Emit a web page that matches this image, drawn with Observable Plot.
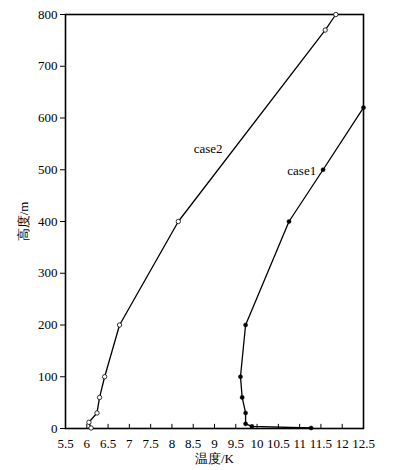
<!DOCTYPE html>
<html>
<head>
<meta charset="utf-8">
<script src="https://cdn.jsdelivr.net/npm/d3@7"></script>
<script src="https://cdn.jsdelivr.net/npm/@observablehq/plot@0.6"></script>
<style>
  html, body { margin: 0; padding: 0; background: #fff; }
  #chart svg, #chart svg text { font-family: "Times New Roman", "Liberation Serif", Times, "DejaVu Serif", serif !important; }
</style>
</head>
<body>
<div id="chart"></div>
<script>
// case1 (filled dots): temperature (K) and height (m)
const case1T = [11.27, 9.88, 9.73, 9.73, 9.65, 9.61, 9.73, 10.75, 11.55, 12.5];
const case1H = [1, 4, 9, 30, 60, 100, 200, 400, 500, 620];
// case2 (open circles)
const case2T = [6.1, 6.05, 6.24, 6.3, 6.42, 6.77, 8.15, 11.6, 11.85];
const case2H = [1, 12, 30, 60, 100, 200, 400, 770, 800];

const xTicks = [5.5, 6, 6.5, 7, 7.5, 8, 8.5, 9, 9.5, 10, 10.5, 11, 11.5, 12, 12.5];
const yTicks = [0, 100, 200, 300, 400, 500, 600, 700, 800];

const labelNames = ["case2", "case1"];
const labelT = [8.85, 11.05];
const labelH = [540, 497];

const case1 = case1T.map((t, i) => ({t, h: case1H[i]}));
const case2 = case2T.map((t, i) => ({t, h: case2H[i]}));
const labels = labelNames.map((name, i) => ({name, t: labelT[i], h: labelH[i]}));

const font = "Times New Roman, Liberation Serif, Times, DejaVu Serif, serif";

const chart = Plot.plot({
  width: 393,
  height: 470,
  marginLeft: 65,
  marginRight: 30,
  marginTop: 14,
  marginBottom: 42,
  style: {fontFamily: font, fontSize: "13px", color: "#000", background: "#fff"},
  x: {domain: [5.5, 12.5]},
  y: {domain: [0, 800]},
  marks: [
    Plot.frame({stroke: "#000", strokeWidth: 1.6}),
    Plot.axisX(xTicks, {tickSize: 0, tickPadding: 6, dy: 4, fontSize: 13, label: null, tickFormat: d => String(d)}),
    Plot.axisX({ticks: [], tickSize: 0, label: "温度/K", labelAnchor: "center", labelOffset: 34, labelArrow: "none", fontSize: 13}),
    Plot.ruleX(xTicks, {x: d => d, y1: 0, y2: 8, stroke: "#000", strokeWidth: 1}),
    Plot.axisY(yTicks, {tickSize: 5, tickPadding: 3, fontSize: 13, tickFormat: d => String(d),
      label: "高度/m", labelAnchor: "center", labelOffset: 47, labelArrow: "none"}),
    Plot.line(case2, {x: "t", y: "h", stroke: "#000", strokeWidth: 1.3}),
    Plot.line(case1, {x: "t", y: "h", stroke: "#000", strokeWidth: 1.3}),
    Plot.dot(case2, {x: "t", y: "h", r: 2.2, fill: "#fff", stroke: "#000", strokeWidth: 0.8}),
    Plot.dot(case1, {x: "t", y: "h", r: 2.1, fill: "#000", stroke: "#000", strokeWidth: 0.4}),
    Plot.text(labels, {x: "t", y: "h", text: "name", fontSize: 13, fill: "#000"})
  ]
});

chart.setAttribute("font-family", font);
document.getElementById("chart").appendChild(chart);
</script>
</body>
</html>
